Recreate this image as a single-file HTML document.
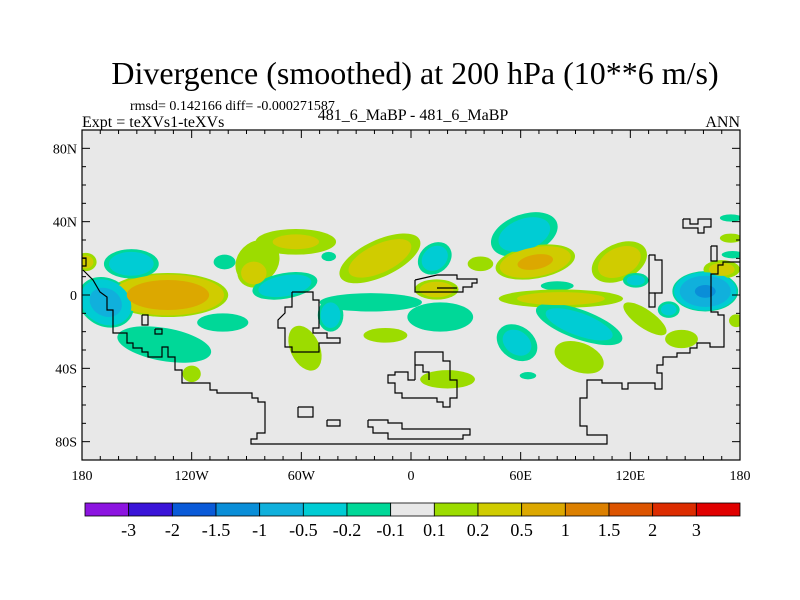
<!DOCTYPE html>
<html><head><meta charset="utf-8"><style>
body{margin:0;background:#fff;}
svg{display:block;font-family:"Liberation Serif",serif;}
</style></head><body>
<svg width="800" height="600" viewBox="0 0 800 600">
<g id="titles">
<text x="415" y="84" font-size="32" text-anchor="middle">Divergence (smoothed) at 200 hPa (10**6 m/s)</text>
<text x="130" y="110" font-size="14">rmsd= 0.142166 diff= -0.000271587</text>
<text x="82" y="127" font-size="16">Expt = teXVs1-teXVs</text>
<text x="413" y="120" font-size="16" text-anchor="middle">481_6_MaBP - 481_6_MaBP</text>
<text x="740" y="127" font-size="16" text-anchor="end">ANN</text>
</g>
<defs><clipPath id="pc"><rect x="82" y="130" width="658" height="330"/></clipPath></defs>
<rect x="82" y="130" width="658" height="330" fill="#e8e8e8"/>
<g id="fills" clip-path="url(#pc)"></g>
<g id="coast" fill="none" stroke="#000" stroke-width="1.2" clip-path="url(#pc)"></g>
<rect x="82" y="130" width="658" height="330" fill="none" stroke="#000" stroke-width="1.2"/>
<g id="axes" font-size="14"></g>
<g id="cbar"></g>
</svg>
<script>
// blob data: lon, lat, rx(deg), ry(deg), rotation(deg), peak value
const blobLon  = [-133,-153,-167,-135,-178,-63,-84,-86,-102,-45,-17,-69,-44,-22,16,-103,-58,-120,-14,20,62,13,14,68,114,38,80,82,128,92,58,92,64,123,141,161,148,170,175,176,175,178];
const blobLat  = [0,17,-4,-27,18,29,18,12,18,21,20,5,-11,-4,-12,-15,-29,-43,-22,-46,33,20,3,18,18,17,5,-2,-13,-16,-26,-34,-44,8,-8,2,-24,14,42,22,31,-14];
const blobRx   = [33,15,16,26,6,22,13,9,6,4,24,18,7,28,18,14,8,5,12,15,19,10,12,22,16,7,9,34,14,25,12,14,4.5,7,6,18,9,10,6,6,6,4];
const blobRy   = [12,8,13,9,5,7,11,8,4,2.5,10,7,9,5,8,5,13,4.5,4,5,11,8,5.5,9,10,4,2.5,5,5,8,9,8,2,4,4.5,11,5,5,2,2,2.5,3.5];
const blobRot  = [0,0,30,10,0,0,-45,0,0,0,-25,-10,0,0,0,0,-25,0,0,0,-20,-40,0,-10,-25,0,0,0,35,20,35,20,0,0,0,0,0,0,0,0,0,0];
const blobPeak = [0.85,-0.4,-0.7,-0.15,0.3,0.25,0.15,0.35,-0.15,-0.13,0.35,-0.4,-0.35,-0.15,-0.15,-0.15,0.2,0.15,0.15,0.15,-0.35,-0.35,0.35,0.6,0.35,0.15,-0.15,0.3,0.15,-0.35,-0.3,0.18,-0.13,-0.3,-0.3,-1.1,0.15,0.3,-0.13,-0.13,0.13,0.14];
const posLevels = [0.1,0.2,0.5,1,1.5,2,3];
const posColors = ["#9cdc00","#d0cc00","#dca800","#dc8000","#dc5400","#dc2c00","#e00000"];
const negLevels = [-0.1,-0.2,-0.5,-1,-1.5,-2,-3];
const negColors = ["#00d898","#00ccd4","#10b0dc","#0a8ed8","#0a5ad8","#3a14d8","#8c14e0"];
const cbarLabels = ["-3","-2","-1.5","-1","-0.5","-0.2","-0.1","0.1","0.2","0.5","1","1.5","2","3"];
const cbarColors = ["#8c14e0","#3a14d8","#0a5ad8","#0a8ed8","#10b0dc","#00ccd4","#00d898","#e8e8e8","#9cdc00","#d0cc00","#dca800","#dc8000","#dc5400","#dc2c00","#e00000"];
const latTicks = [80,40,0,-40,-80];
const latLabels = ["80N","40N","0","40S","80S"];
const lonTicks = [-180,-120,-60,0,60,120,180];
const lonLabels = ["180","120W","60W","0","60E","120E","180"];

const NS="http://www.w3.org/2000/svg";
const X0=82,X1=740,Y0=130,Y1=460;
const xs=lon=>X0+(lon+180)/360*(X1-X0);
const ys=lat=>Y0+(90-lat)/180*(Y1-Y0);
const kx=(X1-X0)/360, ky=(Y1-Y0)/180;
const fills=document.getElementById('fills');
for(let li=0;li<7;li++){
  for(let b=0;b<blobPeak.length;b++){
    const p=blobPeak[b];
    const lv = p>0?posLevels[li]:negLevels[li];
    const col = p>0?posColors[li]:negColors[li];
    if(Math.abs(p)<=Math.abs(lv)) continue;
    const base=p>0?0.1:-0.1;
    const f=Math.sqrt((1-lv/p)/(1-base/p));
    const e=document.createElementNS(NS,'ellipse');
    const cx=xs(blobLon[b]), cy=ys(blobLat[b]);
    e.setAttribute('cx',cx);e.setAttribute('cy',cy);
    e.setAttribute('rx',blobRx[b]*kx*f);e.setAttribute('ry',blobRy[b]*ky*f);
    e.setAttribute('transform','rotate('+blobRot[b]+' '+cx+' '+cy+')');
    e.setAttribute('fill',col);
    
    
    fills.appendChild(e);
  }
}
// coastlines (pixel outlines)
const coasts=[
"83,270 93,280 100,292 107,297 107,310 113,310 113,333 127,333 127,343 133,343 133,348 142,348 142,352 148,352 148,357 162,357 162,347 168,347 168,357 175,357 175,370 182,370 182,383 210,383 210,390 217,390 217,393 252,393 252,398 258,398 258,402 265,402 265,433 257,433 257,439 251,439 251,444 607,444 607,435 587,435 587,426 580,426 580,398 587,398 587,380 602,380 602,383 622,383 622,389 628,389 628,383 655,383 655,389 662,389 662,373 657,373 657,365 663,365 663,357 677,357 677,353 690,353 690,348 697,348 697,343 710,343 710,347 724,347 724,315 718,315 718,312 711,312 711,274 718,274 718,265 723,265 723,262 741,262",
"142,315 148,315 148,325 142,325 142,315",
"155,329 162,329 162,334 155,334 155,329",
"292,292 313,292 313,300 319,300 319,328 313,328 313,333 327,333 327,338 340,338 340,343 319,343 319,352 292,352 292,347 285,347 285,328 278,328 278,320 285,313 285,307 292,307 292,292",
"415,280 437,275 457,275 457,279 477,279 477,283 472,283 472,287 463,287 463,292 415,292 415,280",
"437,288 457,288",
"415,380 415,352 443,352 443,361 450,361 450,380 457,380 457,398 450,398 450,407 443,407 443,402 437,402 437,398 402,398 402,393 395,393 395,383 388,383 388,375 395,375 395,372 408,372 408,380 415,380",
"415,365 423,365 423,372 429,372 429,380",
"298,407 313,407 313,417 298,417 298,407",
"327,420 340,420 340,426 327,426 327,420",
"368,420 388,420 388,423 402,423 402,429 470,429 470,435 463,435 463,439 388,439 388,433 373,433 373,427 368,427 368,420",
"649,255 655,255 655,260 662,260 662,293 655,293 655,307 649,307 649,255",
"649,293 655,293",
"711,246 717,246 717,261 711,261 711,246",
"683,219 690,219 690,224 698,224 698,219 711,219 711,227 704,227 704,233 698,233 698,228 683,228 683,219",
"82,258 86,258 86,266 82,266"
];
const cg=document.getElementById('coast');
coasts.forEach(c=>{const p=document.createElementNS(NS,'polyline');p.setAttribute('points',c);


cg.appendChild(p);});
// axes
const ax=document.getElementById('axes');
function line(x1,y1,x2,y2,name){const l=document.createElementNS(NS,'line');l.setAttribute('x1',x1);l.setAttribute('y1',y1);l.setAttribute('x2',x2);l.setAttribute('y2',y2);l.setAttribute('stroke','#000');l.setAttribute('stroke-width','1');


ax.appendChild(l);}
for(let lon=-170;lon<180;lon+=10){const x=xs(lon);const L=(lon%60===0)?8:4;line(x,Y1,x,Y1-L,'x-tick');line(x,Y0,x,Y0+L,'x-tick');}
for(let lat=-80;lat<=80;lat+=10){const y=ys(lat);const L=(lat%40===0)?8:4;line(X0,y,X0+L,y,'y-tick');line(X1,y,X1-L,y,'y-tick');}
latTicks.forEach((v,i)=>{const t=document.createElementNS(NS,'text');t.setAttribute('x',X0-5);t.setAttribute('y',ys(v)+5);t.setAttribute('text-anchor','end');t.textContent=latLabels[i];


ax.appendChild(t);});
lonTicks.forEach((v,i)=>{const t=document.createElementNS(NS,'text');t.setAttribute('x',xs(v));t.setAttribute('y',480);t.setAttribute('text-anchor','middle');t.textContent=lonLabels[i];


ax.appendChild(t);});
// colorbar
const cb=document.getElementById('cbar');
const CB0=85,CB1=740,CBy=503,CBh=13;const bw=(CB1-CB0)/cbarColors.length;
cbarColors.forEach((c,i)=>{const r=document.createElementNS(NS,'rect');r.setAttribute('x',CB0+i*bw);r.setAttribute('y',CBy);r.setAttribute('width',bw);r.setAttribute('height',CBh);r.setAttribute('fill',c);r.setAttribute('stroke','#000');r.setAttribute('stroke-width','0.8');


cb.appendChild(r);});
cbarLabels.forEach((s,i)=>{const t=document.createElementNS(NS,'text');t.setAttribute('x',CB0+(i+1)*bw);t.setAttribute('y',536);t.setAttribute('text-anchor','middle');t.setAttribute('font-size','18');t.textContent=s;


cb.appendChild(t);});
</script>
</body></html>
